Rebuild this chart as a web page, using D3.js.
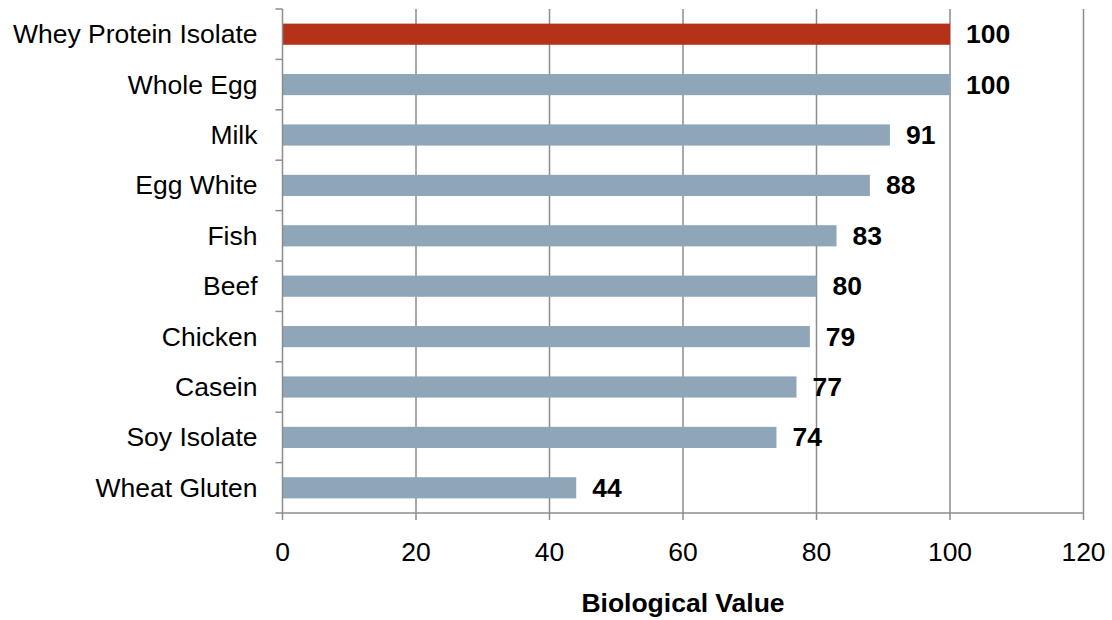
<!DOCTYPE html>
<html>
<head>
<meta charset="utf-8">
<script src="https://cdn.jsdelivr.net/npm/d3@7"></script>
<style>
body { margin: 0; background: #fff; }
text { font-family: Arial, "Liberation Sans", sans-serif; }
</style>
</head>
<body>
<svg width="1112" height="620"></svg>
<script>
var categories = ["Whey Protein Isolate", "Whole Egg", "Milk", "Egg White", "Fish", "Beef", "Chicken", "Casein", "Soy Isolate", "Wheat Gluten"];
var values = [100, 100, 91, 88, 83, 80, 79, 77, 74, 44];
var xTicks = [0, 20, 40, 60, 80, 100, 120];
var highlight = "Whey Protein Isolate";

var svg = d3.select("svg");
var plotLeft = 282.5, plotRight = 1083.5, plotTop = 9, plotBottom = 513;

var x = d3.scaleLinear().domain([0, 120]).range([plotLeft, plotRight]);
var y = d3.scaleBand().domain(categories).range([plotTop, plotBottom]).paddingInner(0.58).paddingOuter(0.29);

// gridlines
svg.selectAll(".grid").data(xTicks.slice(1)).enter().append("line")
	.attr("x1", function(d) { return x(d); })
	.attr("x2", function(d) { return x(d); })
	.attr("y1", plotTop).attr("y2", plotBottom)
	.attr("stroke", "#8c8c8c").attr("stroke-width", 1.5);

// bars
svg.selectAll(".bar").data(categories).enter().append("rect")
	.attr("x", x(0))
	.attr("y", function(d) { return y(d); })
	.attr("width", function(d, i) { return x(values[i]) - x(0); })
	.attr("height", y.bandwidth())
	.attr("fill", function(d) { return d == highlight ? "#b53219" : "#8ea6b7"; });

// value labels
svg.selectAll(".val").data(categories).enter().append("text")
	.attr("x", function(d, i) { return x(values[i]) + 16; })
	.attr("y", function(d) { return y(d) + y.bandwidth() / 2 + 2; })
	.attr("dominant-baseline", "middle")
	.style("font-size", "26.5px").style("font-weight", "bold")
	.text(function(d, i) { return values[i]; });

// left axis with ticks at band edges
var bandStep = (plotBottom - plotTop) / categories.length;
svg.append("line").attr("x1", plotLeft).attr("x2", plotLeft).attr("y1", plotTop).attr("y2", plotBottom)
	.attr("stroke", "#8c8c8c").attr("stroke-width", 1.5);
svg.selectAll(".ytick").data(d3.range(categories.length + 1)).enter().append("line")
	.attr("x1", plotLeft - 7).attr("x2", plotLeft)
	.attr("y1", function(d) { return plotTop + d * bandStep; })
	.attr("y2", function(d) { return plotTop + d * bandStep; })
	.attr("stroke", "#8c8c8c").attr("stroke-width", 1.5);
svg.selectAll(".cat").data(categories).enter().append("text")
	.attr("x", plotLeft - 25)
	.attr("y", function(d) { return y(d) + y.bandwidth() / 2 + 2; })
	.attr("dominant-baseline", "middle")
	.attr("text-anchor", "end")
	.style("font-size", "26.5px")
	.text(function(d) { return d; });

// bottom axis
svg.append("line").attr("x1", plotLeft).attr("x2", plotRight).attr("y1", plotBottom).attr("y2", plotBottom)
	.attr("stroke", "#8c8c8c").attr("stroke-width", 1.5);
svg.selectAll(".xtick").data(xTicks).enter().append("line")
	.attr("x1", function(d) { return x(d); })
	.attr("x2", function(d) { return x(d); })
	.attr("y1", plotBottom).attr("y2", plotBottom + 7)
	.attr("stroke", "#8c8c8c").attr("stroke-width", 1.5);
svg.selectAll(".xlab").data(xTicks).enter().append("text")
	.attr("x", function(d) { return x(d); })
	.attr("y", 554)
	.attr("dominant-baseline", "middle")
	.attr("text-anchor", "middle")
	.style("font-size", "26.5px")
	.text(function(d) { return d; });

svg.append("text")
	.attr("x", (plotLeft + plotRight) / 2)
	.attr("y", 605)
	.attr("dominant-baseline", "middle")
	.attr("text-anchor", "middle")
	.style("font-size", "26.5px").style("font-weight", "bold")
	.text("Biological Value");
</script>
</body>
</html>
